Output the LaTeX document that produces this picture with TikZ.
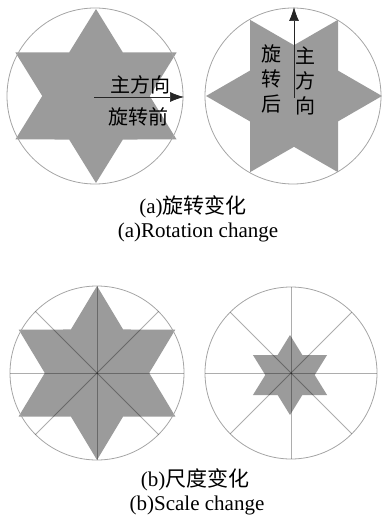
\documentclass[tikz,border=0pt]{standalone}
\usepackage{fontspec}
\setmainfont{Liberation Serif}
\newfontfamily\cjk{Noto Sans CJK SC}
\usetikzlibrary{arrows.meta,calc}
\definecolor{starfill}{RGB}{155,155,155}
\definecolor{ringcol}{RGB}{165,165,165}
\tikzset{
  ring/.style={draw=ringcol, line width=0.8pt},
  star/.style={fill=starfill},
  radial/.style={draw=black, draw opacity=0.32, line width=0.8pt},
  dirarrow/.style={draw=black!85, line width=0.7pt, -{Latex[length=14pt,width=10pt]}},
  cjklabel/.style={font=\cjk\fontsize{20}{25}\selectfont, inner sep=0pt},
  caption/.style={font=\fontsize{21}{25}\selectfont, inner sep=0pt},
}
\newcommand{\hexstarpath}{(90:1) -- (120:0.5774) -- (150:1) -- (180:0.5774) -- (210:1) -- (240:0.5774) -- (270:1) -- (300:0.5774) -- (330:1) -- (0:0.5774) -- (30:1) -- (60:0.5774) -- cycle}
\begin{document}
\begin{tikzpicture}[x=1pt,y=-1pt]
\useasboundingbox (0,0) rectangle (381,518);
% ---------- (a) left: before rotation
\fill[star, shift={(96,96)}, xscale=87*1.07, yscale=87] \hexstarpath;
\draw[ring] (95,96) circle[radius=88];
\coordinate (ca) at (94,97);
\coordinate (ta) at (184,97);
\draw[dirarrow] (ca) -- (ta);
\node[cjklabel] (mainA) at (140,85) {主方向};
\node[cjklabel] (befA) at (138,117) {旋转前};
% ---------- (a) right: after rotation
\fill[star, shift={(294,96)}, rotate=90, xscale=88, yscale=88] \hexstarpath;
\draw[ring] (293,96) circle[radius=88];
\coordinate (cb) at (294,98);
\coordinate (tb) at (294,7);
\draw[dirarrow] (cb) -- (tb);
\node[cjklabel, align=center] (aftB) at (271,79) {旋\\转\\后};
\node[cjklabel, align=center] (mainB) at (305,81) {主\\方\\向};
% captions (a)
\node[caption] (capa1) at (193,207) {(a){\cjk 旋转变化}};
\node[caption] (capa2) at (198,232) {(a)Rotation change};
% ---------- (b) left: large star
\fill[star, shift={(97,373)}, xscale=87*1.04, yscale=87] \hexstarpath;
\draw[ring] (97,373) circle[radius=87];
\foreach \a in {0,45,90,135}{
  \draw[radial] ($(97,373)+(\a:87)$) -- ($(97,373)+(\a+180:87)$);
}
% ---------- (b) right: small star
\fill[star, shift={(290,375)}, xscale=40*1.07, yscale=40] \hexstarpath;
\draw[ring] (291,373) circle[radius=86];
\foreach \a in {0,45,90,135}{
  \draw[radial] ($(291,373)+(\a:86)$) -- ($(291,373)+(\a+180:86)$);
}
% captions (b)
\node[caption] (capb1) at (195,480) {(b){\cjk 尺度变化}};
\node[caption] (capb2) at (197,505) {(b)Scale change};
\end{tikzpicture}
\end{document}
